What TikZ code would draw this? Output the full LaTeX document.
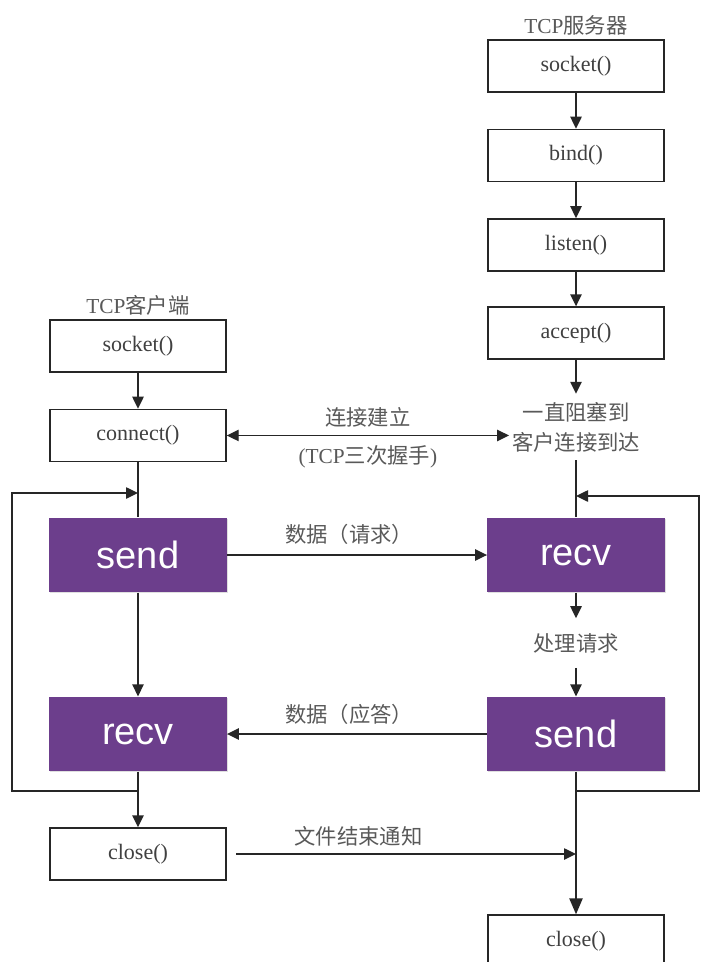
\documentclass[tikz,border=0pt]{standalone}
\usepackage{fontspec}
\setmainfont{Liberation Serif}
\setsansfont{Liberation Sans}
\newfontfamily\cjk{Noto Sans CJK SC}
\usepackage{xcolor}
\usetikzlibrary{positioning,arrows.meta,shadows}

\definecolor{sockpurple}{RGB}{108,62,140}

\begin{document}
\begin{tikzpicture}[
  x=0.75pt, y=-0.75pt,
  font=\fontsize{16}{19}\selectfont,
  call/.style={draw=black!85, line width=1.1pt, fill=white, minimum width=132pt, minimum height=39pt, inner sep=0pt, text=black!75, font=\fontsize{16.5}{19}\selectfont},
  io/.style={fill=sockpurple, minimum width=133pt, minimum height=56pt, inner sep=0pt, text=white, font=\sffamily\fontsize{28.5}{30}\selectfont, drop shadow={opacity=0.25, shadow xshift=0.8pt, shadow yshift=-0.8pt}},
  note/.style={text=black!65, font=\cjk\fontsize{16}{22.5}\selectfont, align=center, inner sep=2pt},
  head/.style={text=black!65, inner sep=2pt},
  arr/.style={-{Triangle[length=9pt, width=8.5pt]}, line width=1.1pt, draw=black!85},
  link/.style={line width=1.1pt, draw=black!85},
  darr/.style={arr, {Triangle[length=9pt, width=8.5pt]}-{Triangle[length=9pt, width=8.5pt]}}
]
\fill[white] (0,0) rectangle (707,962);
\useasboundingbox (0,0) rectangle (707,962);
% server column
\node[call] (ssock) at (576,66) {socket()};
\node[head, above=1pt of ssock] (stitle) {TCP{\cjk 服务器}};
\node[call, below=27pt of ssock] (sbind) {bind()};
\node[call, below=27pt of sbind] (slisten) {listen()};
\node[call, below=26pt of slisten] (saccept) {accept()};
\node[note, inner ysep=6pt] (swait) at (576,427) {一直阻塞到\\客户连接到达};
\node[io] (srecv) at (576,555) {recv};
\node[note, inner ysep=11pt] (sproc) at (576,643) {处理请求};
\node[io] (ssend) at (576,734) {send};
\node[call] (sclose) at (576,941) {close()};
\foreach \a/\b in {ssock/sbind, sbind/slisten, slisten/saccept, saccept/swait, srecv/sproc, sproc/ssend}{\draw[arr] (\a) -- (\b);}
\draw[link] (swait) -- (srecv);
\draw[arr, -{Triangle[length=12pt, width=10pt]}] (ssend) -- (sclose);
% client column
\node[call] (csock) at (138,346) {socket()};
\node[head, above=1pt of csock] (ctitle) {TCP{\cjk 客户端}};
\node[call, below=27pt of csock] (cconn) {connect()};
\node[io] (csend) at (138,555) {send};
\node[io] (crecv) at (138,734) {recv};
\node[call] (cclose) at (138,854) {close()};
\draw[arr] (csock) -- (cconn);
\draw[link] (cconn) -- (csend);
\draw[arr] (csend) -- (crecv);
\draw[arr] (crecv) -- (cclose);
% loops back to the data exchange
\coordinate (cback) at (138,493);
\coordinate (cjoin) at (138,791);
\coordinate (sback) at (576,496);
\coordinate (sjoin) at (576,791);
\draw[arr] (cjoin) -- ++(-126,0) |- (cback);
\draw[arr] (sjoin) -- ++(123,0) |- (sback);
% messages between the two sides
\draw[darr] (cconn.east) -- (cconn.east -| swait.west)
  node[note, midway, above=3.5pt] {连接建立}
  node[note, midway, below=5pt] {{\rmfamily (TCP}三次握手{\rmfamily )}};
\draw[arr] (csend.east) -- (srecv.west) node[note, pos=0.47, above=5pt] {数据（请求）};
\draw[arr] (ssend.west) -- (crecv.east) node[note, pos=0.53, above=4.5pt] {数据（应答）};
\draw[arr] ([xshift=7pt]cclose.east) -- (cclose.east -| ssend.south) node[note, pos=0.36, above=3.5pt] {文件结束通知};
\end{tikzpicture}
\end{document}
